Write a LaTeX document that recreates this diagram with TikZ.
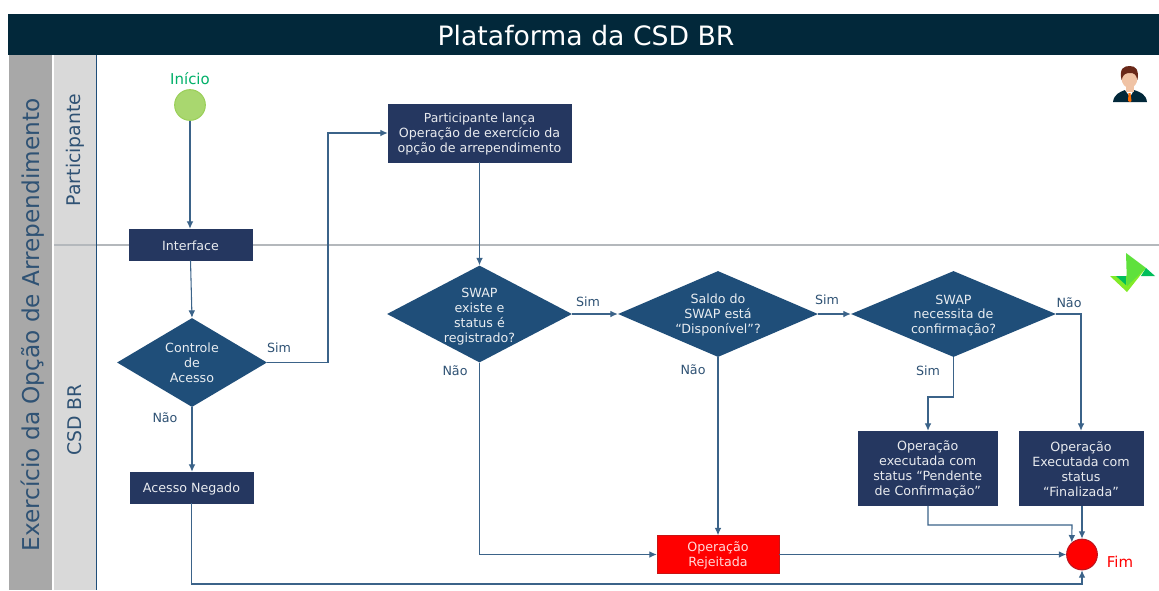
\documentclass[tikz,border=0pt]{standalone}
\usepackage{fontspec}
\setmainfont{DejaVu Sans}
\usetikzlibrary{shapes.geometric,arrows.meta}
\definecolor{hdr}{HTML}{02283A}
\definecolor{boxblue}{HTML}{253760}
\definecolor{diablue}{HTML}{1F4E79}
\definecolor{lanedark}{HTML}{A8A8A8}
\definecolor{lanelight}{HTML}{D9D9D9}
\definecolor{txtblue}{HTML}{2F5274}
\definecolor{linkblue}{HTML}{3B6389}
\definecolor{sep}{HTML}{B4B8BC}
\definecolor{startfill}{RGB}{169,215,111}
\definecolor{startline}{RGB}{155,208,90}
\definecolor{startText}{RGB}{0,176,105}
\definecolor{rejline}{RGB}{200,20,20}
\definecolor{fimline}{RGB}{190,20,30}
\definecolor{skin}{RGB}{240,195,165}
\definecolor{hair}{RGB}{105,40,25}
\definecolor{logoa}{RGB}{130,235,40}
\definecolor{logob}{RGB}{95,225,60}
\definecolor{logoc}{RGB}{0,190,90}
\tikzset{
  x=0.75pt,y=-0.75pt,
  boxn/.style={rectangle,fill=boxblue,draw=boxblue,text=white!90!boxblue,align=center,inner sep=0pt,font=\fontsize{9.5}{11.2}\selectfont},
  dian/.style={diamond,fill=diablue,draw=none,inner sep=0pt},
  diat/.style={text=white!90!diablue,align=center,inner sep=0pt,font=\fontsize{9.5}{11.2}\selectfont},
  link/.style={draw=linkblue,line width=0.8pt,-{Latex[length=5.5pt,width=5pt]}},
  lbl/.style={text=txtblue,font=\fontsize{9.5}{11}\selectfont,inner sep=0pt},
  lanelbl/.style={rotate=90,text=txtblue,inner sep=0pt},
}
\newcommand{\boxat}[6]{% name, x1,y1,x2,y2, text
  \path node[boxn,minimum width={(#4-#2)*0.75pt},minimum height={(#5-#3)*0.75pt}] (#1) at ({(#2+#4)/2},{(#3+#5)/2}) {\rule{0pt}{9pt}#6};}
\begin{document}
\begin{tikzpicture}
\useasboundingbox (0,0) rectangle (1159,590);
\fill[white] (0,0) rectangle (1159,590);
% lanes
\fill[lanedark] (9,55) rectangle (52,590);
\fill[lanelight] (54,55) rectangle (96,590);
\fill[hdr] (8,14) rectangle (1159,55);
\draw[sep,line width=1.1pt] (54,245) -- (1159,245);
\draw[diablue,line width=0.9pt] (96.5,55) -- (96.5,590);
\node[text=white,inner sep=0pt,font=\fontsize{20}{24}\selectfont] (title) at (586,36) {Plataforma da CSD BR};
\node[lanelbl,font=\fontsize{17.4}{20}\selectfont] (lane0) at (33,325) {Exercício da Opção de Arrependimento};
\node[lanelbl,font=\fontsize{14.1}{16}\selectfont] (lane1) at (75,150) {Participante};
\node[lanelbl,font=\fontsize{14.1}{16}\selectfont] (lane2) at (75,420) {CSD BR};
% nodes
\node[circle,fill=startfill,draw=startline,line width=0.8pt,minimum size=23pt,inner sep=0pt] (start) at (190,105) {};
\node[text=startText,inner sep=0pt,font=\fontsize{11.2}{13}\selectfont] (startl) at (190,79) {Início};
\boxat{iface}{129}{229}{252}{260}{Interface}
\node[dian,minimum width=112.5pt,minimum height=66.75pt,aspect=1.685] (ctrl) at (192,362.5) {};
\node[diat] (ctrlt) at (192,362.5) {Controle\\de\\Acesso};
\boxat{neg}{130}{472}{253}{503}{Acesso Negado}
\boxat{part}{388}{104}{571}{162}{\fontsize{9.3}{11.2}\selectfont Participante lança\\Operação de exercício da\\opção de arrependimento}
\node[dian,minimum width=138.75pt,minimum height=72.75pt,aspect=1.907] (swap) at (479.5,314) {};
\node[diat] (swapt) at (479.5,317) {SWAP\\existe e\\status é\\registrado?};
\node[dian,minimum width=150pt,minimum height=64.5pt,aspect=2.326] (saldo) at (718,314) {};
\node[diat] (saldot) at (718,315) {Saldo do\\SWAP está\\“Disponível”?};
\node[dian,minimum width=153.75pt,minimum height=64.5pt,aspect=2.384] (conf) at (953.5,314) {};
\node[diat] (conft) at (953.5,315.5) {SWAP\\necessita de\\confirmação?};
\boxat{pend}{858.5}{431}{997}{505.5}{Operação\\executada com\\status “Pendente\\de Confirmação”}
\boxat{fina}{1019}{431}{1143}{505.5}{Operação\\Executada com\\status\\“Finalizada”}
\node[boxn,fill=red,draw=rejline,text=white!85!red,minimum width=91.5pt,minimum height=28.5pt] (rej) at (718,554.5) {\rule{0pt}{9pt}Operação\\Rejeitada};
\node[circle,fill=red,draw=fimline,line width=0.8pt,minimum size=23pt,inner sep=0pt] (fim) at (1082,554.5) {};
\node[text=red,inner sep=0pt,font=\fontsize{11.2}{13}\selectfont] (fiml) at (1120,562) {Fim};
% helper coordinates
\coordinate (c1) at (328,362.5);
\coordinate (c2) at (328,133);
\coordinate (c3) at (191.5,584);
\coordinate (c4) at (1082,584);
\coordinate (c5) at (479.5,554.5);
\coordinate (c6) at (953.5,397);
\coordinate (c7) at (928,397);
\coordinate (c8) at (1081,314);
\coordinate (c9) at (928,525);
\coordinate (c10) at (1072,525);
% connectors
\draw[link] (start.south) -- (iface.north-|start.south);
\draw[link] (iface.south) -- (ctrl.north);
\draw[link] (ctrl.east) -- (c1) -- (c2) -- (part.west);
\draw[link] (ctrl.south) -- (neg.north-|ctrl.south);
\draw[link] (neg.south) -- (c3) -- (c4) -- (fim.south);
\draw[link] (part.south) -- (swap.north);
\draw[link] (swap.east) -- (saldo.west);
\draw[link] (saldo.east) -- (conf.west);
\draw[link] (saldo.south) -- (rej.north);
\draw[link] (swap.south) -- (c5) -- (rej.west);
\draw[link] (rej.east) -- (fim.west);
\draw[link] (conf.south) -- (c6) -- (c7) -- (pend.north-|c7);
\draw[link] (conf.east) -- (c8) -- (fina.north-|c8);
\draw[link] (pend.south-|c9) -- (c9) -- (c10) -- (fim.130);
\draw[link] (fina.south-|fim.north) -- (fim.north);
% branch labels
\node[lbl] (s1) at (279,348) {Sim};
\node[lbl] (n1) at (165,418) {Não};
\node[lbl] (s2) at (588,302) {Sim};
\node[lbl] (n2) at (455,371) {Não};
\node[lbl] (s3) at (827,300) {Sim};
\node[lbl] (n3) at (693,370) {Não};
\node[lbl] (s4) at (928,371) {Sim};
\node[lbl] (n4) at (1069,303) {Não};
% person icon
\fill[hdr] (1113,102) .. controls (1114,94) and (1120,92) .. (1125,90) -- (1134,90) .. controls (1140,92) and (1146,94) .. (1147,102) -- cycle;
\fill[white] (1125,90) -- (1130,97) -- (1134,90) -- cycle;
\fill[orange!85!red] (1128.5,93) -- (1130.5,93) -- (1131.5,101) -- (1130,102) -- (1128,101) -- cycle;
\fill[skin] (1125.5,84) rectangle (1133.5,92);
\fill[skin] (1129.5,78) ellipse [x radius=8,y radius=10];
\fill[hair] (1121.5,80) .. controls (1119,68) and (1124,66) .. (1130,66) .. controls (1136,66) and (1139,70) .. (1137.5,80) .. controls (1136,74) and (1134,73) .. (1130,73) .. controls (1126,73) and (1123,74) .. (1121.5,80) -- cycle;
% logo
\fill[logoa] (1110,276) -- (1126,276) -- (1146,268) -- (1127,292) -- cycle;
\fill[logob] (1126,253) -- (1146,268) -- (1127,286) -- cycle;
\fill[logoc] (1116,276) -- (1126,276) -- (1126,285) -- cycle;
\fill[logoc] (1146,268) -- (1155,276) -- (1141,276) -- cycle;
\end{tikzpicture}
\end{document}
